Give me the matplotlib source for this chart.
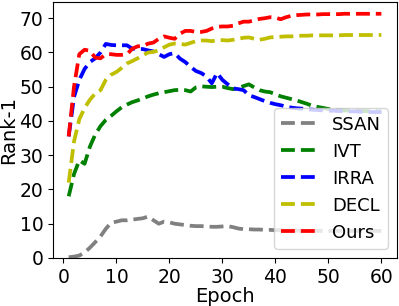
import matplotlib
matplotlib.use("Agg")
import matplotlib.pyplot as plt
import numpy as np

epochs = list(range(1, 61))

ssan = [0.2, 0.4, 0.7, 1.6, 3.0, 4.6, 6.3, 8.5, 10.3, 10.6, 11.0, 11.0, 11.2, 11.4, 11.6, 12.1, 11.0, 10.0, 10.6, 10.4,
        10.0, 9.8, 9.6, 9.4, 9.3, 9.3, 9.2, 9.1, 9.1, 9.2, 9.3, 9.0, 8.6, 8.4, 8.4, 8.3, 8.3, 8.2, 8.2, 8.1,
        8.1, 8.0, 8.0, 8.0, 7.9, 7.9, 7.9, 7.9, 7.9, 7.9, 7.9, 7.9, 7.9, 7.9, 7.9, 7.9, 7.9, 7.9, 7.9, 7.9]

ivt = [18.0, 24.5, 28.5, 27.5, 32.5, 36.0, 38.5, 40.3, 41.5, 42.8, 44.0, 44.8, 45.5, 46.0, 46.6, 47.2, 47.7, 48.1, 48.4, 48.7,
       49.0, 49.1, 49.0, 48.6, 49.8, 50.1, 50.0, 49.9, 50.0, 50.0, 49.6, 49.3, 49.6, 50.2, 50.7, 49.8, 49.0, 48.6, 48.4, 47.8,
       47.2, 46.8, 46.4, 46.0, 45.5, 45.0, 44.4, 44.1, 43.8, 43.5, 43.3, 43.2, 43.1, 43.0, 43.0, 42.9, 42.9, 42.8, 42.8, 42.8]

irra = [35.5, 47.0, 52.0, 55.2, 57.2, 58.3, 60.0, 62.5, 62.2, 62.1, 62.1, 62.1, 61.1, 61.0, 61.0, 60.6, 60.3, 59.5, 58.7, 59.5,
        59.8, 58.2, 57.2, 55.8, 54.6, 54.0, 53.0, 51.0, 54.0, 52.0, 50.7, 49.5, 49.3, 49.0, 47.5, 47.0, 46.4, 45.8, 45.3, 44.9,
        44.6, 44.2, 43.9, 43.7, 43.6, 43.4, 43.3, 43.2, 43.1, 43.0, 43.0, 42.9, 42.9, 42.8, 42.8, 42.7, 42.7, 42.6, 42.6, 42.6]

decl = [22.0, 34.0, 40.5, 43.8, 46.2, 48.0, 49.0, 52.0, 53.5, 54.3, 55.5, 56.8, 57.5, 58.3, 59.2, 60.0, 60.2, 60.6, 61.5, 62.3,
        62.6, 62.5, 62.3, 62.8, 63.3, 63.5, 63.5, 63.3, 63.6, 63.6, 63.5, 63.7, 64.0, 64.3, 64.4, 64.0, 63.7, 64.0, 64.4, 64.5,
        64.6, 64.7, 64.7, 64.8, 64.9, 64.9, 65.0, 65.0, 65.0, 65.0, 65.0, 65.0, 65.1, 65.1, 65.1, 65.1, 65.1, 65.1, 65.1, 65.1]

ours = [35.5, 50.0, 59.5, 60.8, 60.5, 58.5, 58.3, 59.5, 59.5, 59.3, 59.3, 59.5, 61.1, 61.8, 61.9, 62.6, 62.9, 64.0, 64.7, 64.3,
        64.0, 65.5, 66.3, 66.3, 66.0, 66.0, 66.3, 67.0, 67.5, 67.6, 67.6, 67.8, 68.5, 69.0, 69.0, 69.4, 69.8, 70.0, 70.3, 70.2,
        69.7, 70.3, 70.7, 70.9, 71.0, 71.1, 71.1, 71.1, 71.2, 71.2, 71.2, 71.2, 71.3, 71.3, 71.3, 71.3, 71.3, 71.3, 71.3, 71.3]

names = ["SSAN", "IVT", "IRRA", "DECL", "Ours"]
colors = ["gray", "g", "b", "y", "r"]

fig = plt.figure(figsize=(3.99, 3.06), dpi=100)
ax = fig.add_axes([0.133, 0.157, 0.862, 0.836])
for vals, name, c in zip([ssan, ivt, irra, decl, ours], names, colors):
    ax.plot(epochs, vals, linestyle="--", color=c, linewidth=2.7, label=name)

ax.set_ylim(0, 74.7)
ax.set_xlabel("Epoch", fontsize=14, labelpad=0)
ax.set_ylabel("Rank-1", fontsize=14, labelpad=1)
ax.tick_params(labelsize=13.5)
ax.set_xticks([0, 10, 20, 30, 40, 50, 60])
ax.set_yticks([0, 10, 20, 30, 40, 50, 60, 70])
ax.legend(loc="lower right", fontsize=13)
fig.savefig("out.png", dpi=100)
